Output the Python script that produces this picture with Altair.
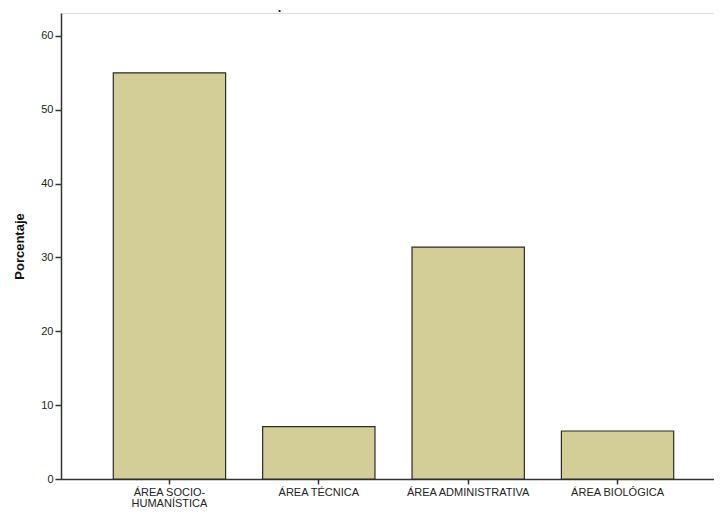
import altair as alt
import pandas as pd

categories = ["ÁREA SOCIO-\nHUMANÍSTICA", "ÁREA TÉCNICA", "ÁREA ADMINISTRATIVA", "ÁREA BIOLÓGICA"]
percentages = [55.0, 7.1, 31.4, 6.5]
y_ticks = [0, 10, 20, 30, 40, 50, 60]

df = pd.DataFrame({"cat": categories, "pct": percentages})

chart = alt.Chart(df).mark_bar(
    color="#D3CE97", stroke="#2b2b2b", strokeWidth=1.2
).encode(
    x=alt.X("cat:N", sort=categories, title=None,
            scale=alt.Scale(paddingInner=0.248, paddingOuter=0.35, align=0.5),
            axis=alt.Axis(labelAngle=0, labelExpr="split(datum.label, '\\n')",
                          labelFont="Liberation Sans", labelFontSize=11, labelColor="#222",
                          labelLineHeight=11, labelPadding=2,
                          domainColor="#333", domainWidth=1.5, tickColor="#333", tickWidth=1.5,
                          tickSize=5, grid=False)),
    y=alt.Y("pct:Q", title="Porcentaje",
            scale=alt.Scale(domain=[0, 63.1], nice=False, zero=True),
            axis=alt.Axis(values=y_ticks, labelFont="Liberation Sans", labelFontSize=11,
                          labelColor="#222", titleFont="Liberation Sans", titleFontSize=13,
                          titleFontWeight="bold", titleColor="#111", titlePadding=14,
                          domainColor="#333", domainWidth=1.5, tickColor="#333", tickWidth=1.5,
                          tickSize=6, grid=False, labelPadding=2)),
).properties(
    width=665, height=466,
    title=alt.TitleParams(".", anchor="start", dx=264, dy=4, offset=2, fontSize=13,
                          fontWeight="bold", font="Liberation Sans", color="#111"),
    autosize=alt.AutoSizeParams(type="none"),
    padding={"left": 53, "top": 5, "right": -12, "bottom": 31},
).configure_view(
    fill="#F0F0F0", stroke="#6a6a6a", strokeWidth=1.8
).configure(background="white")

chart.save("out.html", embed_options={"renderer": "svg", "actions": False})
